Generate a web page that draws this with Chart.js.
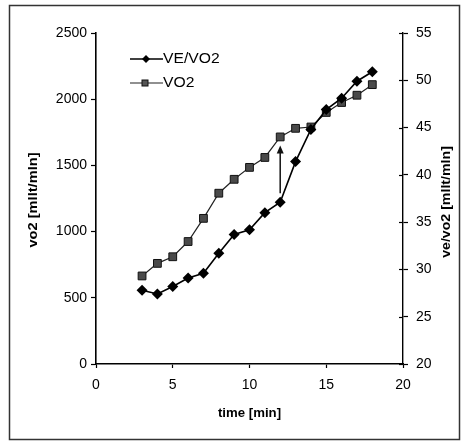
<!DOCTYPE html>
<html>
<head>
<meta charset="utf-8">
<script src="https://cdn.jsdelivr.net/npm/chart.js@4/dist/chart.umd.min.js"></script>
<style>
  html, body { margin: 0; padding: 0; background: #fff; }
  #wrap { position: relative; width: 466px; height: 443px; }
</style>
</head>
<body>
<div id="wrap"><canvas id="c" width="466" height="443"></canvas></div>
<script>
// ---- data ----
const times = [3, 4, 5, 6, 7, 8, 9, 10, 11, 12, 13, 14, 15, 16, 17, 18];
const veVo2 = [27.8, 27.4, 28.2, 29.1, 29.6, 31.7, 33.7, 34.2, 36.0, 37.1, 41.4, 44.8, 46.9, 48.1, 49.9, 50.9];
const vo2 = [665, 760, 810, 925, 1100, 1290, 1395, 1485, 1560, 1715, 1780, 1790, 1900, 1975, 2030, 2110];
const xTicks = [0, 5, 10, 15, 20];
const leftTicks = [0, 500, 1000, 1500, 2000, 2500];
const rightTicks = [20, 25, 30, 35, 40, 45, 50, 55];
const seriesNames = ['VE/VO2', 'VO2'];
const axisTitles = { x: 'time [min]', left: 'vo2 [mllt/mln]', right: 've/vo2 [mllt/mln]' };
// arrow annotation (time, from/to on the vo2 axis)
const arrowTime = 12;
const arrowFrom = 1290;
const arrowTo = 1650;

const FONT = '"Liberation Sans", Arial, sans-serif';

const toXY = (xs, ys) => xs.map((x, i) => ({ x: x, y: ys[i] }));
const plain = v => String(v);

const extras = {
  id: 'extras',
  afterDraw(chart) {
    const ctx = chart.ctx;
    const xs = chart.scales.x, yl = chart.scales.yL, yr = chart.scales.yR;
    ctx.save();

    // outer frame
    ctx.strokeStyle = '#333';
    ctx.lineWidth = 1.5;
    ctx.strokeRect(9.5, 5.5, 450, 434);

    // inward ticks on right axis
    ctx.strokeStyle = '#000';
    ctx.lineWidth = 1.2;
    rightTicks.forEach(v => {
      const py = Math.round(yr.getPixelForValue(v)) + 0.5;
      ctx.beginPath();
      ctx.moveTo(yr.left - 4, py);
      ctx.lineTo(yr.left, py);
      ctx.stroke();
    });

    // arrow
    const ax = xs.getPixelForValue(arrowTime);
    const ay1 = yl.getPixelForValue(arrowFrom);
    const ay2 = yl.getPixelForValue(arrowTo);
    ctx.strokeStyle = '#111';
    ctx.fillStyle = '#111';
    ctx.lineWidth = 1.5;
    ctx.beginPath();
    ctx.moveTo(ax, ay1);
    ctx.lineTo(ax, ay2 + 6);
    ctx.stroke();
    ctx.beginPath();
    ctx.moveTo(ax, ay2);
    ctx.lineTo(ax - 3.5, ay2 + 8);
    ctx.lineTo(ax + 3.5, ay2 + 8);
    ctx.closePath();
    ctx.fill();

    // legend
    const lx0 = 130, lx1 = 163;
    const ly = [59, 83];
    ctx.strokeStyle = '#000';
    ctx.lineWidth = 1.5;
    ctx.beginPath(); ctx.moveTo(lx0, ly[0]); ctx.lineTo(lx1, ly[0]); ctx.stroke();
    ctx.fillStyle = '#000';
    ctx.beginPath();
    ctx.moveTo(146, ly[0] - 4); ctx.lineTo(150, ly[0]); ctx.lineTo(146, ly[0] + 4); ctx.lineTo(142, ly[0]);
    ctx.closePath(); ctx.fill();
    ctx.strokeStyle = '#222';
    ctx.lineWidth = 1.2;
    ctx.beginPath(); ctx.moveTo(lx0, ly[1]); ctx.lineTo(lx1, ly[1]); ctx.stroke();
    ctx.fillStyle = '#555';
    ctx.fillRect(142, ly[1] - 3, 6, 6);
    ctx.strokeStyle = '#111';
    ctx.lineWidth = 1;
    ctx.strokeRect(142, ly[1] - 3, 6, 6);

    ctx.fillStyle = '#000';
    ctx.textBaseline = 'middle';
    ctx.textAlign = 'left';
    ctx.font = '14px ' + FONT;
    ctx.save();
    ctx.translate(163, ly[0]); ctx.scale(1.12, 1);
    ctx.fillText(seriesNames[0], 0, 0);
    ctx.restore();
    ctx.save();
    ctx.translate(163, ly[1]); ctx.scale(1.12, 1);
    ctx.fillText(seriesNames[1], 0, 0);
    ctx.restore();

    // axis titles
    ctx.font = 'bold 12px ' + FONT;
    ctx.textAlign = 'center';
    ctx.textBaseline = 'middle';
    ctx.save();
    ctx.translate(249.5, 414); ctx.scale(1.1, 1);
    ctx.fillText(axisTitles.x, 0, 0);
    ctx.restore();
    ctx.save();
    ctx.translate(34, 200); ctx.rotate(-Math.PI / 2); ctx.scale(1.22, 1);
    ctx.fillText(axisTitles.left, 0, 0);
    ctx.restore();
    ctx.save();
    ctx.translate(447, 202); ctx.rotate(-Math.PI / 2); ctx.scale(1.18, 1);
    ctx.fillText(axisTitles.right, 0, 0);
    ctx.restore();

    ctx.restore();
  }
};

const tickFont = { family: FONT, size: 14 };

new Chart(document.getElementById('c'), {
  type: 'line',
  data: {
    datasets: [
      {
        label: seriesNames[0],
        data: toXY(times, veVo2),
        yAxisID: 'yR',
        borderColor: '#000',
        backgroundColor: '#000',
        borderWidth: 1.6,
        pointStyle: 'rectRot',
        pointRadius: 5.5,
        pointBorderWidth: 0,
        tension: 0
      },
      {
        label: seriesNames[1],
        data: toXY(times, vo2),
        yAxisID: 'yL',
        borderColor: '#222',
        backgroundColor: '#4a4a4a',
        pointBorderColor: '#111',
        borderWidth: 1.2,
        pointStyle: 'rect',
        pointRadius: 5.5,
        pointBorderWidth: 1,
        tension: 0
      }
    ]
  },
  options: {
    responsive: false,
    animation: false,
    devicePixelRatio: 1,
    layout: { padding: { left: 0, right: 0, top: 33, bottom: 0 } },
    plugins: { legend: { display: false }, tooltip: { enabled: false } },
    scales: {
      x: {
        type: 'linear',
        min: 0, max: 20,
        afterBuildTicks: s => { s.ticks = xTicks.map(v => ({ value: v })); },
        border: { display: true, color: '#000', width: 1.6 },
        grid: { drawOnChartArea: false, drawTicks: true, tickLength: 4, color: '#000', tickWidth: 1.2 },
        ticks: { color: '#000', font: tickFont, padding: 9, maxRotation: 0, callback: plain },
        afterFit: s => { s.height = 79; }
      },
      yL: {
        type: 'linear',
        position: 'left',
        min: 0, max: 2500,
        afterBuildTicks: s => { s.ticks = leftTicks.map(v => ({ value: v })); },
        border: { display: true, color: '#000', width: 1.6 },
        grid: { drawOnChartArea: false, drawTicks: true, tickLength: 5, color: '#000', tickWidth: 1.2 },
        ticks: { color: '#000', font: tickFont, padding: 4, callback: plain },
        afterFit: s => { s.width = 96; }
      },
      yR: {
        type: 'linear',
        position: 'right',
        min: 20, max: 55,
        afterBuildTicks: s => { s.ticks = rightTicks.map(v => ({ value: v })); },
        border: { display: true, color: '#000', width: 1.4 },
        grid: { drawOnChartArea: false, drawTicks: true, tickLength: 5, color: '#000', tickWidth: 1.2 },
        ticks: { color: '#000', font: tickFont, padding: 8, callback: plain },
        afterFit: s => { s.width = 63; }
      }
    }
  },
  plugins: [extras]
});
</script>
</body>
</html>
